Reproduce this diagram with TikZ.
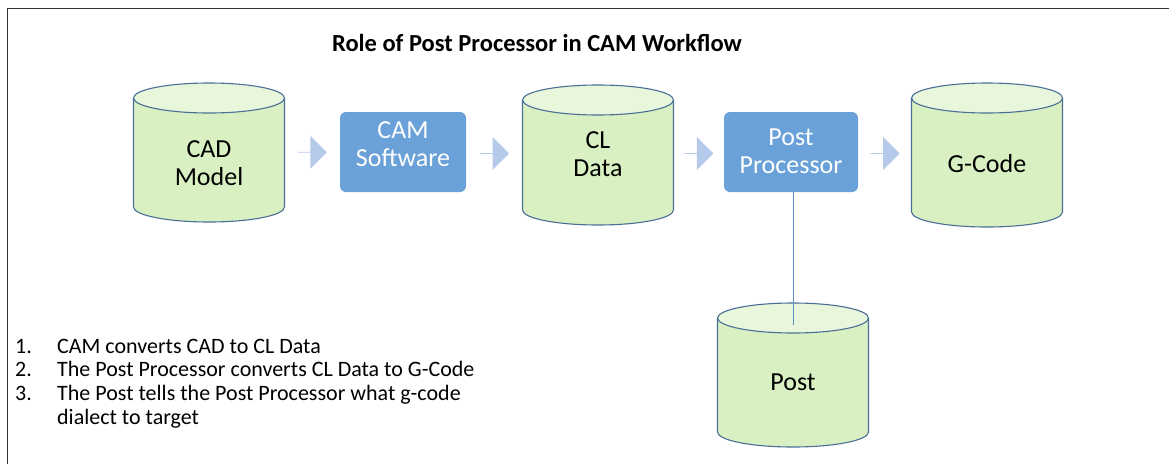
\documentclass[tikz,border=0pt]{standalone}
\usepackage{fontspec}
\setmainfont{Carlito}
\usetikzlibrary{shapes.arrows,calc,backgrounds}
\definecolor{drumfill}{HTML}{D9F1C2}
\definecolor{drumtop}{HTML}{E8F6DC}
\definecolor{drumline}{HTML}{4A6E96}
\definecolor{stepfill}{HTML}{6AA1D8}
\definecolor{arrowfill}{HTML}{B5C9EA}
\definecolor{linkline}{HTML}{5B8CC4}
\definecolor{framecol}{HTML}{333333}
\newcommand{\labelsize}{\fontsize{26}{28}\selectfont}
\newcommand{\notesize}{\fontsize{22}{23.8}\selectfont}
\newcommand{\drumrx}{75.5pt}
\newcommand{\drumry}{15pt}
\tikzset{
  drum/.style={rectangle, minimum width=151pt, minimum height=141pt, inner sep=0pt,
    outer sep=0pt, text depth=0pt, align=center, font=\labelsize},
  drumpaint/.style={draw=drumline, fill=drumfill, line width=1.1pt},
  stepbox/.style={rectangle, rounded corners=6pt, fill=stepfill, text=white,
    minimum height=80pt, inner sep=0pt, text height=48pt, text depth=6pt,
    align=center, font=\labelsize},
  flowarrow/.style={single arrow, fill=arrowfill, inner sep=0pt,
    minimum height=29pt, minimum width=33pt, single arrow head extend=8pt}
}

\begin{document}
\begin{tikzpicture}[x=1pt,y=-1pt]
  \useasboundingbox (0,0) rectangle (1169,464);
  \draw[framecol, line width=1.5pt] (1169,8.5) -| (7.5,464);

  \node[font=\fontsize{24.5}{28}\selectfont\bfseries] (title) at (537,43) {Role of Post Processor in CAM Workflow};

  % main flow
  \node[drum, minimum height=139pt, text height=65pt] (cad) at (209,152.5) {CAD\\Model};
  \node[stepbox, minimum width=126pt, text height=40pt, text depth=12pt] (cam) at (403,152) {CAM\\Software};
  \node[drum, minimum height=140pt, text height=42pt] (cl) at (598,155) {CL\\Data};
  \node[stepbox, minimum width=134pt] (pp) at (791,152) {Post\\Processor};
  \node[drum, minimum height=144pt, text height=34pt] (gcode) at (987,155) {G-Code};
  \node[drum, minimum height=144pt, text height=30pt] (post) at (793,375) {Post};

  % cylinders behind the labels
  \begin{scope}[on background layer]
    \foreach \n in {cad,cl,gcode,post}{
      \filldraw[drumpaint] ([yshift=-\drumry]\n.north west) -- ([yshift=\drumry]\n.south west)
        arc[start angle=180, end angle=360, x radius=\drumrx, y radius=\drumry]
        -- ([yshift=-\drumry]\n.north east);
      \filldraw[drumpaint, fill=drumtop] ([yshift=-\drumry]\n.north) ellipse[x radius=\drumrx, y radius=\drumry];
    }
  \end{scope}

  \node[flowarrow] (a1) at ($(cad.east)!0.5!(cam.west)$) {};
  \node[flowarrow] (a2) at ($(cam.east)!0.5!(cl.west)$) {};
  \node[flowarrow] (a3) at ($(cl.east)!0.5!(pp.west)$) {};
  \node[flowarrow] (a4) at ($(pp.east)!0.5!(gcode.west)$) {};

  \coordinate (postcap) at ($(post.north)+(0,22)$);
  \draw[linkline, line width=1pt] (pp.south -| postcap) -- (postcap);

  \node[anchor=base west, inner sep=0pt, font=\notesize] (notes) at (15,353) {%
    \begin{tabular}[t]{@{}p{42pt}@{}l@{}}
      1. & CAM converts CAD to CL Data\\
      2. & The Post Processor converts CL Data to G-Code\\
      3. & The Post tells the Post Processor what g-code\\
         & dialect to target
    \end{tabular}};
\end{tikzpicture}
\end{document}
